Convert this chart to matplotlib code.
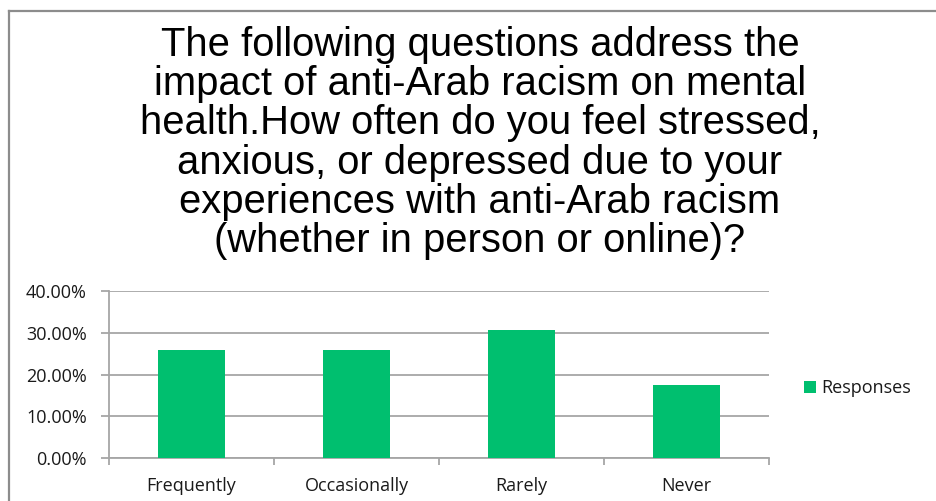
import matplotlib.pyplot as plt
from matplotlib.lines import Line2D
from matplotlib.ticker import FuncFormatter

categories = ['Frequently', 'Occasionally', 'Rarely', 'Never']
responses = [25.93, 25.93, 30.56, 17.59]
y_ticks = [0, 10, 20, 30, 40]

title = ('The following questions address the\n'
         'impact of anti-Arab racism on mental\n'
         'health.How often do you feel stressed,\n'
         'anxious, or depressed due to your\n'
         'experiences with anti-Arab racism\n'
         '(whether in person or online)?')

W, H = 936, 501
fig = plt.figure(figsize=(W / 100, H / 100), dpi=100)
fig.patch.set_facecolor('white')

# chart frame (open to the right and bottom)
fig.add_artist(Line2D([8.5 / W, 8.5 / W], [0, 1 - 10.5 / H], transform=fig.transFigure,
                      color='#8c8c8c', lw=1.6))
fig.add_artist(Line2D([8.5 / W, 1], [1 - 10.5 / H, 1 - 10.5 / H], transform=fig.transFigure,
                      color='#8c8c8c', lw=1.6))

fig.text(480 / W, 1 - 143 / H, title, ha='center', va='center',
         fontfamily='Liberation Sans', fontsize=28.8, linespacing=1.04, color='black')

left, right = 109 / W, 769 / W
bottom, top = 1 - 458 / H, 1 - 291 / H
ax = fig.add_axes([left, bottom, right - left, top - bottom])

x = range(len(categories))
bars = ax.bar(x, responses, width=0.41, color='#00bf6f', zorder=3, label='Responses')

ax.set_xlim(-0.5, len(categories) - 0.5)
ax.set_ylim(0, 40)
ax.set_yticks(y_ticks)
ax.yaxis.set_major_formatter(FuncFormatter(lambda v, _: f'{v:.2f}%'))
ax.set_xticks(x)
ax.set_xticklabels(categories)
ax.set_xticks([i - 0.5 for i in range(len(categories) + 1)], minor=True)

grid_c = '#a6a6a6'
ax.grid(axis='y', color=grid_c, lw=1.3, zorder=0)
for s in ['top', 'right']:
    ax.spines[s].set_visible(False)
for s in ['left', 'bottom']:
    ax.spines[s].set_color(grid_c)
    ax.spines[s].set_linewidth(1.3)

font_name = 'Open Sans'
font_size = 13
text_c = '#1a1a1a'
ax.tick_params(axis='y', which='major', length=6, width=1.3, color=grid_c, pad=10)
ax.tick_params(axis='x', which='major', length=0, pad=14)
ax.tick_params(axis='x', which='minor', length=5, width=1.3, color=grid_c)
for lbl in ax.get_xticklabels() + ax.get_yticklabels():
    lbl.set_fontfamily(font_name)
    lbl.set_fontsize(font_size)
    lbl.set_color(text_c)

leg = fig.legend(handles=[bars], labels=['Responses'], loc='center left',
                 bbox_to_anchor=(788 / W, 1 - 388 / H), frameon=False,
                 handlelength=0.65, handleheight=0.65, handletextpad=0.3,
                 prop={'family': font_name, 'size': font_size})
for t in leg.get_texts():
    t.set_color(text_c)

fig.savefig('out.png', dpi=100, facecolor='white')
